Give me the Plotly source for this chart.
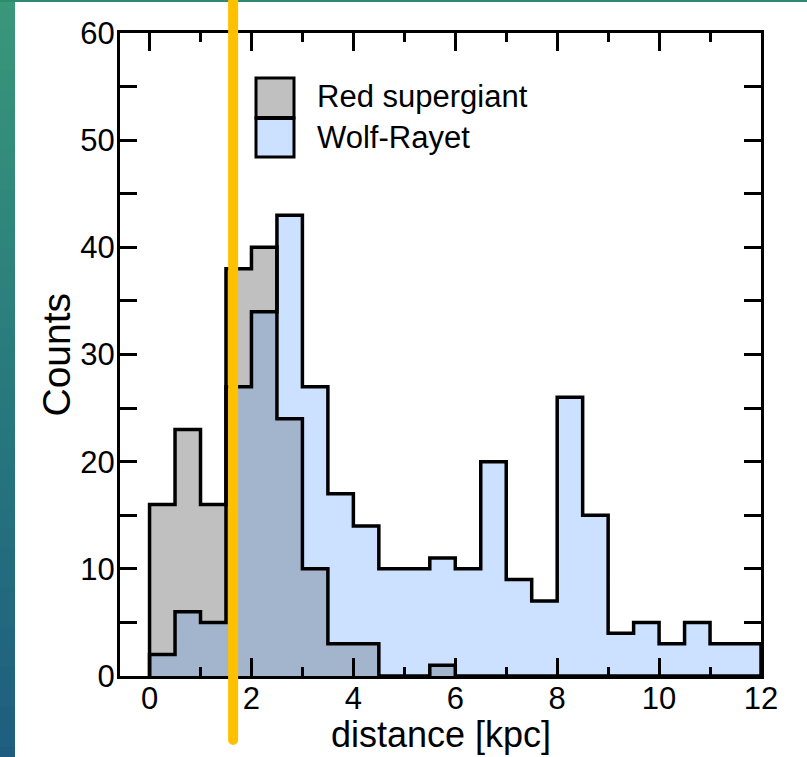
import numpy as np
import plotly.graph_objects as go

# ---------------- data ----------------
bin_start = 0.0
bin_width = 0.5
red_supergiant = [16, 23, 16, 38, 40, 24, 10, 3, 3, 0, 0, 1,
                  0, 0, 0, 0, 0, 0, 0, 0, 0, 0, 0, 0]
wolf_rayet = [2, 6, 5, 27, 34, 43, 27, 17, 14, 10, 10, 11,
              10, 20, 9, 7, 26, 15, 4, 5, 3, 5, 3, 3]
series_names = ["Red supergiant", "Wolf-Rayet"]
x_title = "distance [kpc]"
y_title = "Counts"
marker_distance = 1.64  # yellow vertical marker [kpc]

x_range = [-0.58, 12]
y_range = [0, 60]

# ---------------- layout geometry ----------------
W, H = 807, 757
L, R, T, B = 120, 46, 33, 81
pw, ph = W - L - R, H - T - B


def px_x(px):
    return (px - L) / pw


def px_y(py):
    return (H - B - py) / ph


def data_x_to_paper(x):
    return (x - x_range[0]) / (x_range[1] - x_range[0])


rsg = np.array(red_supergiant)
wr = np.array(wolf_rayet)
n = len(rsg)
edges = bin_start + bin_width * np.arange(n + 1)
centers = edges[:-1] + bin_width / 2
overlap = np.minimum(rsg, wr)

C_RSG = "#c0c0c0"
C_WR = "#cce0ff"
C_OV = "#a3b5cc"
FONT = "Liberation Sans, Arial, sans-serif"

fig = go.Figure()
fig.add_trace(go.Bar(x=centers, y=rsg, width=bin_width, marker=dict(color=C_RSG, line_width=0),
                     name=series_names[0], showlegend=False, hoverinfo="x+y"))
fig.add_trace(go.Bar(x=centers, y=wr, width=bin_width, marker=dict(color=C_WR, line_width=0),
                     name=series_names[1], showlegend=False, hoverinfo="x+y"))
fig.add_trace(go.Bar(x=centers, y=overlap, width=bin_width, marker=dict(color=C_OV, line_width=0),
                     showlegend=False, hoverinfo="skip"))


def step_xy(counts):
    xs = np.concatenate([[edges[0]], edges])
    ys = np.concatenate([[0], counts, [0]])
    return xs, ys


for counts in (rsg, wr):
    xs, ys = step_xy(counts)
    fig.add_trace(go.Scatter(x=xs, y=ys, mode="lines", line=dict(shape="hv", color="black", width=3.5),
                             showlegend=False, hoverinfo="skip"))

shapes = []
# background strip on the left (gradient) and top
top_c = np.array([58, 152, 122])
mid_c = np.array([40, 122, 126])
bot_c = np.array([30, 92, 128])
nb = 40
span = H + 40
for i in range(nb):
    t = i / (nb - 1)
    if t < 0.5:
        c = top_c + (mid_c - top_c) * (t / 0.5)
    else:
        c = mid_c + (bot_c - mid_c) * ((t - 0.5) / 0.5)
    y0p = -10 + i * span / nb
    y1p = -10 + (i + 1) * span / nb + 2
    shapes.append(dict(type="rect", xref="paper", yref="paper", x0=px_x(-5), x1=px_x(15),
                       y0=px_y(y1p), y1=px_y(y0p), line_width=0,
                       fillcolor="rgb(%d,%d,%d)" % tuple(c.astype(int)), layer="below"))
shapes.append(dict(type="rect", xref="paper", yref="paper", x0=px_x(0), x1=px_x(W + 5),
                   y0=px_y(2), y1=px_y(-5), line_width=0, fillcolor="#2e8a70", layer="below"))

# legend patches
lx0, lx1 = px_x(256), px_x(294)
ly_top, ly_mid, ly_bot = px_y(78), px_y(118), px_y(157)
shapes.append(dict(type="rect", xref="paper", yref="paper", x0=lx0, x1=lx1, y0=ly_mid, y1=ly_top,
                   fillcolor=C_RSG, line=dict(color="black", width=3), layer="above"))
shapes.append(dict(type="rect", xref="paper", yref="paper", x0=lx0, x1=lx1, y0=ly_bot, y1=ly_mid,
                   fillcolor=C_WR, line=dict(color="black", width=3), layer="above"))
shapes.append(dict(type="line", xref="paper", yref="paper", x0=lx0, x1=lx1, y0=ly_mid, y1=ly_mid,
                   line=dict(color="black", width=4), layer="above"))

# yellow marker line
mx = data_x_to_paper(marker_distance)
shapes.append(dict(type="line", xref="paper", yref="paper", x0=mx, x1=mx, y0=px_y(740), y1=px_y(-2),
                   line=dict(color="#ffc000", width=10), layer="above"))
r = 5
shapes.append(dict(type="circle", xref="paper", yref="paper",
                   x0=mx - r / pw, x1=mx + r / pw, y0=px_y(740 + r), y1=px_y(740 - r),
                   fillcolor="#ffc000", line_width=0, layer="above"))

annotations = [
    dict(text=series_names[0], xref="paper", yref="paper", x=px_x(315), y=px_y(97),
         xanchor="left", yanchor="middle", showarrow=False, font=dict(family=FONT, size=31, color="black")),
    dict(text=series_names[1], xref="paper", yref="paper", x=px_x(315), y=px_y(137),
         xanchor="left", yanchor="middle", showarrow=False, font=dict(family=FONT, size=31, color="black")),
    dict(text=x_title, xref="paper", yref="paper", x=0.5, y=px_y(734),
         xanchor="center", yanchor="middle", showarrow=False, font=dict(family=FONT, size=36, color="black")),
    dict(text=y_title, xref="paper", yref="paper", x=px_x(56), y=0.5, textangle=-90,
         xanchor="center", yanchor="middle", showarrow=False, font=dict(family=FONT, size=39, color="black")),
]

axis_common = dict(showline=True, linewidth=3, linecolor="black", mirror="ticks", ticks="inside",
                   tickwidth=3, tickcolor="black", showgrid=False, zeroline=False, automargin=False,
                   tickfont=dict(family=FONT, size=31, color="black"))

fig.update_layout(
    width=W, height=H,
    margin=dict(l=L, r=R, t=T, b=B, pad=0, autoexpand=False),
    paper_bgcolor="white", plot_bgcolor="white",
    barmode="overlay", bargap=0,
    shapes=shapes, annotations=annotations,
    xaxis=dict(range=x_range, tick0=0, dtick=2, ticklen=18, ticklabelstandoff=-7,
               minor=dict(tick0=0, dtick=1, ticklen=9, tickwidth=3, tickcolor="black", ticks="inside"),
               **axis_common),
    yaxis=dict(range=y_range, tick0=0, dtick=10, ticklen=17, ticklabelstandoff=-4,
               minor=dict(tick0=0, dtick=5, ticklen=17, tickwidth=3, tickcolor="black", ticks="inside"),
               **axis_common),
    showlegend=False,
)

fig.write_html("out.html")
